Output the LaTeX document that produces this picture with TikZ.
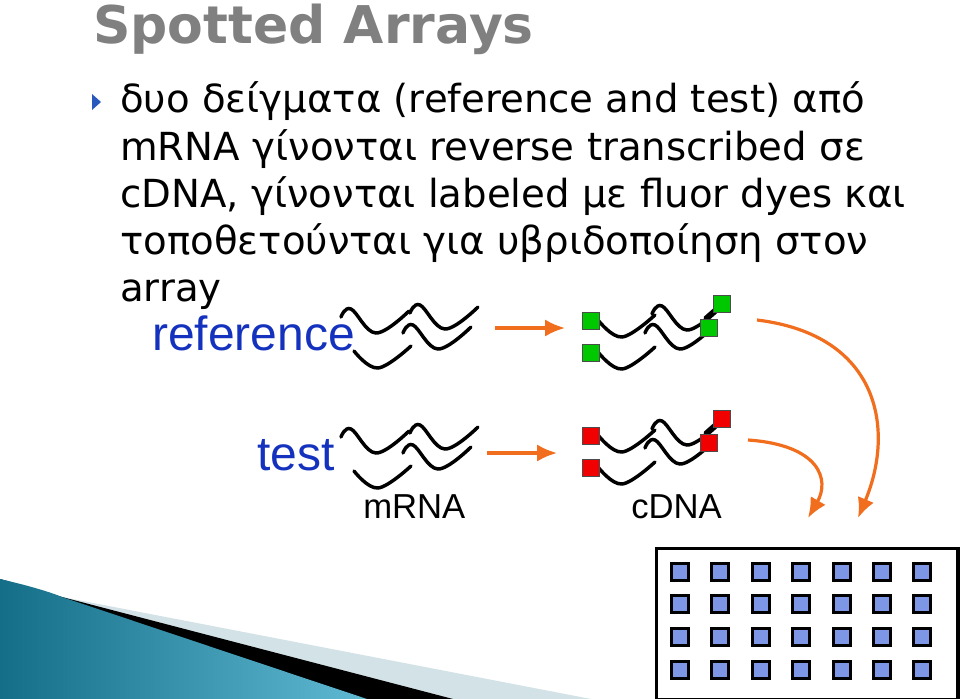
\documentclass[tikz,border=0pt]{standalone}
\usepackage{fontspec}
\setmainfont{DejaVu Sans}
\newfontfamily\arialf{Liberation Sans}
\usetikzlibrary{arrows.meta}
\definecolor{swlight}{RGB}{210,226,230}
\definecolor{tealdark}{RGB}{20,110,135}
\definecolor{teallight}{RGB}{95,185,210}
\definecolor{titlegray}{RGB}{128,128,128}
\definecolor{bulletblue}{RGB}{40,90,190}
\definecolor{labblue}{RGB}{20,50,190}
\definecolor{orangeA}{RGB}{240,110,30}
\definecolor{greenA}{RGB}{0,200,0}
\definecolor{redA}{RGB}{240,0,0}
\definecolor{spotblue}{RGB}{125,150,230}
\begin{document}
\begin{tikzpicture}[x=0.75pt,y=-0.75pt,
  body/.style={anchor=base west,inner sep=0pt,font=\fontsize{29pt}{32pt}\selectfont},
  strand/.style={line width=2.6pt,line cap=round},
  oarrow/.style={draw=orangeA,line width=2.4pt,-{Latex[length=15pt,width=13pt]}},
  gsq/.style={draw=black!70,line width=0.5pt,fill=greenA,minimum size=13pt,inner sep=0pt},
  rsq/.style={draw=black!70,line width=0.5pt,fill=redA,minimum size=13pt,inner sep=0pt},
  spot/.style={draw=black,line width=2.4pt,fill=spotblue,minimum size=13pt,inner sep=0pt}]
\clip (0,0) rectangle (960,699);
\fill[white] (0,0) rectangle (960,699);
% swoosh
\fill[swlight] (0,579) -- (62,597) -- (591,699) -- (0,699) -- cycle;
\fill[black] (0,579) -- (62,597) -- (453,699) -- (0,699) -- cycle;
\shade[left color=tealdark,right color=teallight] (0,579) .. controls (30,586) and (50,592) .. (62,597) -- (367,699) -- (0,699) -- cycle;
% title
\node[anchor=base west,inner sep=0pt,text=titlegray,font=\fontsize{39pt}{42pt}\selectfont\bfseries] (title) at (93,44) {Spotted Arrays};
% bullet
\fill[bulletblue] (92,94) -- (101,102) -- (92,110) -- cycle;
\node[body] (l1) at (120,113) {δυο δείγματα (reference and test) από};
\node[body] (l2) at (120,160) {mRNA γίνονται reverse transcribed σε};
\node[body] (l3) at (120,207) {cDNA, γίνονται labeled με fluor dyes και};
\node[body] (l4) at (120,254) {τοποθετούνται για υβριδοποίηση στον};
\node[body] (l5) at (120,301) {array};
% labels
\node[anchor=base west,inner sep=0pt,text=labblue,font=\arialf\fontsize{36pt}{40pt}\selectfont] (ref) at (152,350) {reference};
\node[anchor=base west,inner sep=0pt,text=labblue,font=\arialf\fontsize{36pt}{40pt}\selectfont] (test) at (257,470) {test};
\node[anchor=base west,inner sep=0pt,font=\arialf\fontsize{26pt}{30pt}\selectfont] (mrna) at (363,518) {mRNA};
\node[anchor=base west,inner sep=0pt,font=\arialf\fontsize{26pt}{30pt}\selectfont] (cdna) at (631,518) {cDNA};
% strands
\tikzset{wave/.pic={\draw[strand] plot[smooth,tension=0.65] coordinates {(0,0) (10,-8) (35,16) (68,-6)};},
         wavet/.pic={\draw[strand] plot[smooth,tension=0.65] coordinates {(0,0) (24,17) (57,-5)};}}
\foreach \dy in {0,120}{
  \pic at (341,317+\dy) {wave};
  \pic at (410,313+\dy) {wave};
  \pic at (403,333+\dy) {wave};
  \pic at (354,351+\dy) {wavet};
}
% cDNA strands
\foreach \dy/\s in {0/gsq,115/rsq}{
  \pic at (598,320+\dy) {wavet};
  \pic at (652,314+\dy) {wave};
  \pic at (645,333+\dy) {wave};
  \pic at (598,352+\dy) {wavet};
  \draw[strand] (705,318+\dy) -- (722,303+\dy);
  \node[\s] at (591,321+\dy) {};
  \node[\s] at (591,353+\dy) {};
  \node[\s] at (709,328+\dy) {};
  \node[\s] at (722,304+\dy) {};
}
% arrows
\coordinate (a1s) at (495,328); \coordinate (a1e) at (565,328);
\coordinate (a2s) at (487,453); \coordinate (a2e) at (557,453);
\draw[oarrow] (a1s) -- (a1e);
\draw[oarrow] (a2s) -- (a2e);
% array
\node[draw=black,line width=2.4pt,minimum width=226pt,minimum height=113pt,inner sep=0pt,anchor=north west] (arr) at (655,547) {};
\foreach \c [count=\i] in {680,720,761,801,842,882,922}{
  \foreach \r [count=\j] in {572,604,637,670}{
    \node[spot] (s\i\j) at (\c,\r) {};
  }
}
\coordinate (c1s) at (757,320); \coordinate (c2s) at (748,440);
\draw[oarrow] (c1s) .. controls (880,335) and (895,430) .. (858,518);
\draw[oarrow] (c2s) .. controls (820,445) and (830,480) .. (808,518);
\end{tikzpicture}
\end{document}
